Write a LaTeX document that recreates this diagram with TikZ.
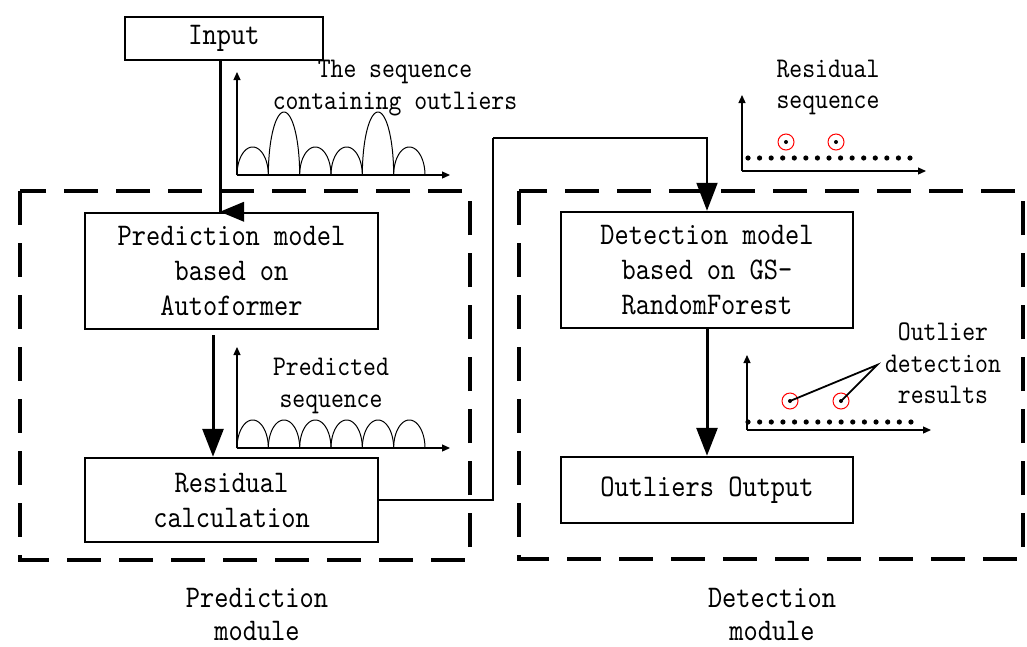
\documentclass[tikz,border=0pt]{standalone}
\usepackage{fontspec}
\newfontfamily\monofont{lmmono10-regular}[Extension=.otf,FakeStretch=0.86]
\usetikzlibrary{arrows.meta,calc}
\newcommand\boxtext{\monofont\fontsize{31.5}{35}\selectfont}
\newcommand\captext{\monofont\fontsize{31.5}{33}\selectfont}
\newcommand\notetext{\monofont\fontsize{28.5}{31.5}\selectfont}
\tikzset{
  box/.style={draw,line width=2.5pt,inner sep=0pt,font=\boxtext,align=center},
  note/.style={inner sep=0pt,font=\notetext,align=center},
  caption/.style={inner sep=0pt,font=\captext,align=center},
  modulebox/.style={line width=4pt,dash pattern=on 34pt off 18pt},
  flow/.style={line width=3pt,-{Triangle[length=28pt,width=21pt]}},
  link/.style={line width=2pt},
  axis/.style={line width=1.2pt,-{Triangle[length=8pt,width=7pt]}},
  curve/.style={line width=1pt},
  mark ring/.style={draw=red,line width=1pt},
}
\begin{document}
\begin{tikzpicture}[x=1pt,y=-1pt]
\useasboundingbox (0,0) rectangle (1027,646);

% module frames
\draw[modulebox] (20,191) rectangle (470,560);
\draw[modulebox] (519,191) rectangle (1023,559);

% process boxes
\node[box,minimum width=198pt,minimum height=43pt] (in) at (224,38.5) {Input};
\node[box,minimum width=293pt,minimum height=116pt] (pred) at (231.5,271) {Prediction model\\based on\\Autoformer};
\node[box,minimum width=293pt,minimum height=84pt] (res) at (231.5,500) {Residual\\calculation};
\node[box,minimum width=292pt,minimum height=116pt] (det) at (707,270) {Detection model\\based on GS-\\RandomForest};
\node[box,minimum width=292pt,minimum height=66pt] (out) at (707,490) {Outliers Output};

% module captions
\node[caption] (capP) at (257,614) {Prediction\\module};
\node[caption] (capD) at (772,614) {Detection\\module};

% input feed with its left-pointing head on the box edge
\coordinate (feed) at (220,0);
\draw[line width=3pt] (feed |- in.south) -- (feed |- pred.north);
\fill (feed |- pred.north) -- ++(24,-10) -- ++(0,20) -- cycle;

% prediction -> residual
\coordinate (p1) at (213,335);
\draw[flow] (p1) -- (p1 |- res.north);

% residual -> detection
\coordinate (bend) at (493,138);
\draw[link] (res.east) -| (bend);
\draw[link,-{Triangle[length=28pt,width=21pt]}] (bend) -| (det.north);

% detection -> output
\draw[flow] (det.south) -- (out.north);

% chart: sequence containing outliers
\coordinate (o1) at (237,175);
\draw[axis] (o1) -- (237,72);
\draw[axis] (o1) -- (450,175);
\foreach \h [count=\i from 0] in {28,63,28,28,63,28}
  \draw[curve] plot[variable=\t,domain=0:180,samples=40]
    ({252.67+31.33*\i-15.67*cos(\t)},{175-\h*sin(\t)});
\node[note] (n1) at (395,88) {The sequence\\containing outliers};

% chart: predicted sequence
\coordinate (o2) at (237,448);
\draw[axis] (o2) -- (237,347);
\draw[axis] (o2) -- (450,448);
\foreach \i in {0,...,5}
  \draw[curve] plot[variable=\t,domain=0:180,samples=40]
    ({252.67+31.33*\i-15.67*cos(\t)},{448-28*sin(\t)});
\node[note] (n2) at (331,386) {Predicted\\sequence};

% chart: residual sequence
\coordinate (o3) at (742,171);
\draw[axis] (o3) -- (742,95);
\draw[axis] (o3) -- (926,171);
\foreach \i in {0,...,14}
  \fill (748+\i*11.57,158) circle (2.6pt);
\foreach \cx in {786,836} {
  \draw[mark ring] (\cx,142) circle (8pt);
  \fill (\cx,142) circle (2pt);
}
\node[note] (n3) at (828,87.5) {Residual\\sequence};

% chart: outlier detection results
\coordinate (o4) at (747,430);
\draw[axis] (o4) -- (747,355);
\draw[axis] (o4) -- (931,430);
\foreach \i in {0,...,14}
  \fill (748+\i*11.64,422) circle (2.6pt);
\coordinate (tip) at (877,365);
\foreach \cx/\nm in {790/r1,841/r2} {
  \draw[mark ring] (\cx,401) circle (8pt);
  \fill (\cx,401) circle (2pt);
  \coordinate (\nm) at (\cx,401);
}
\draw[line width=1.8pt] (r1) -- (tip) -- (r2);
\node[note] (n4) at (943,363.5) {Outlier\\detection\\results};
\end{tikzpicture}
\end{document}
